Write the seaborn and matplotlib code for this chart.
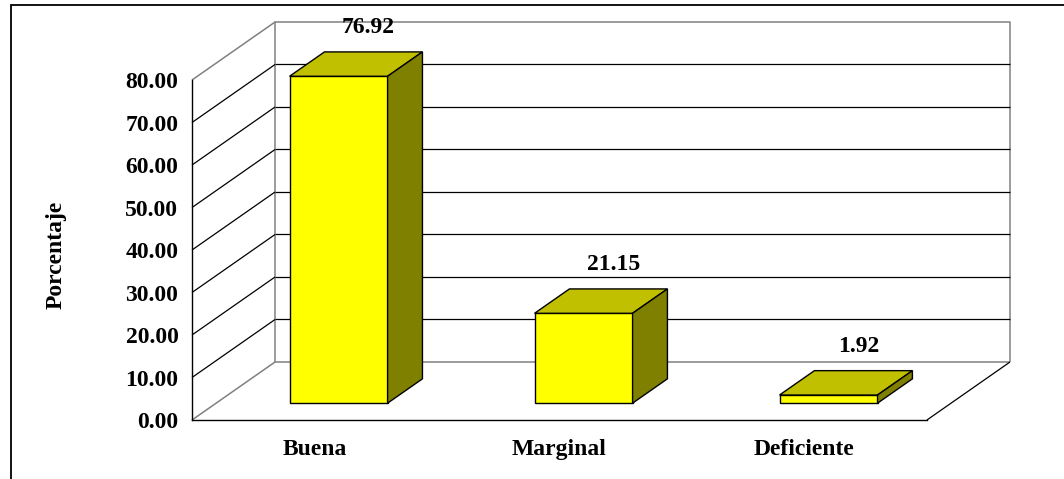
import matplotlib
matplotlib.use("Agg")
import matplotlib.pyplot as plt
import matplotlib.transforms as mtransforms
from matplotlib.patches import Polygon, Rectangle
import pandas as pd
import seaborn as sns

# ---- data -------------------------------------------------------------
categorias = ["Buena", "Marginal", "Deficiente"]
porcentajes = [76.92, 21.15, 1.92]
marcas_y = [0, 10, 20, 30, 40, 50, 60, 70, 80]
etiquetas_y = ["0.00", "10.00", "20.00", "30.00", "40.00",
               "50.00", "60.00", "70.00", "80.00"]

df = pd.DataFrame({"Calidad": categorias, "Porcentaje": porcentajes})

# ---- style ------------------------------------------------------------
sns.set_theme(style="white", rc={
    "text.color": "black", "axes.labelcolor": "black",
    "xtick.color": "black", "ytick.color": "black",
    "axes.edgecolor": "black",
})
plt.rcParams["font.family"] = ["Liberation Serif", "DejaVu Serif"]
FS = 17

W, H = 1064, 479
fig = plt.figure(figsize=(W / 100, H / 100), dpi=100)

# oblique depth vector of the 3-D box (category units, percent units)
DX, DY = 0.339, 13.65
D0, D1 = 0.29, 0.71          # front / back depth of the bars
YMAX = marcas_y[-1]
x0, x1 = -0.5, len(categorias) - 0.5

ax = fig.add_axes([192 / W, (H - 420) / H, (1010 - 192) / W, (420 - 22) / H])

# ---- walls and floor --------------------------------------------------
GREY = "#808080"
LW = 0.9
bx0, bx1 = x0 + DX, x1 + DX
kw = dict(clip_on=False, zorder=1, solid_capstyle="butt")
ax.plot([bx0, bx0, bx1, bx1], [DY, YMAX + DY, YMAX + DY, DY], color=GREY, lw=1.1, **kw)
ax.plot([bx0, bx1], [DY, DY], color=GREY, lw=1.1, **kw)
for v in marcas_y[1:-1]:
    ax.plot([bx0, bx1], [v + DY, v + DY], color="black", lw=LW, **kw)
    ax.plot([x0, bx0], [v, v + DY], color="black", lw=LW, **kw)
ax.plot([x0, bx0], [0, DY], color=GREY, lw=1.1, **kw)
ax.plot([x0, bx0], [YMAX, YMAX + DY], color=GREY, lw=1.1, **kw)
ax.plot([x1, bx1], [0, DY], color="black", lw=LW, **kw)

# ---- bars: front faces from seaborn, then top and side faces ---------
sns.barplot(data=df, x="Calidad", y="Porcentaje", width=0.4, color="#FFFF00",
            saturation=1, edgecolor="black", linewidth=1.0, zorder=3, ax=ax)
barras = list(ax.patches)

fx, fy = D0 * DX, D0 * DY
bxo, byo = D1 * DX, D1 * DY
desplazamiento = mtransforms.Affine2D().translate(fx, fy) + ax.transData
for barra, valor in zip(barras, porcentajes):
    barra.set_transform(desplazamiento)
    x, w, h = barra.get_x(), barra.get_width(), barra.get_height()
    tapa = [(x + fx, h + fy), (x + w + fx, h + fy),
            (x + w + bxo, h + byo), (x + bxo, h + byo)]
    lado = [(x + w + fx, fy), (x + w + fx, h + fy),
            (x + w + bxo, h + byo), (x + w + bxo, byo)]
    ax.add_patch(Polygon(tapa, closed=True, facecolor="#C0C000",
                         edgecolor="black", lw=1.0, zorder=3))
    ax.add_patch(Polygon(lado, closed=True, facecolor="#808000",
                         edgecolor="black", lw=1.0, zorder=3))
    ax.annotate(f"{valor:.2f}", xy=(x + w / 2 + 0.65 * DX, h + byo),
                xytext=(0, 13.7), textcoords="offset points",
                ha="center", va="baseline", fontsize=FS, fontweight="bold",
                annotation_clip=False)

# ---- axes -------------------------------------------------------------
ax.set_xlim(x0, bx1)
ax.set_ylim(0, YMAX + DY)
ax.patch.set_visible(False)
for s in ("top", "right"):
    ax.spines[s].set_visible(False)
ax.spines["left"].set_bounds(0, YMAX)
ax.spines["bottom"].set_bounds(x0, x1)
for s in ("left", "bottom"):
    ax.spines[s].set_linewidth(1.0)
    ax.spines[s].set_zorder(2)

ax.set_yticks(marcas_y, etiquetas_y)
ax.tick_params(axis="y", length=4, width=1, direction="out", pad=5.8,
               labelsize=FS)
ax.set_xticks(range(len(categorias)), categorias)
ax.set_xticks([x0 + i for i in range(len(categorias) + 1)], minor=True)
ax.tick_params(axis="x", which="major", length=0, pad=14.0, labelsize=FS)
ax.tick_params(axis="x", which="minor", length=5, width=1, direction="out")
for lab in ax.get_xticklabels() + ax.get_yticklabels():
    lab.set_fontweight("bold")

ax.set_xlabel("")
ax.set_ylabel("Porcentaje", fontsize=FS, fontweight="bold")
ax.yaxis.set_label_coords(-0.1528, 0.4146)

# chart frame
fig.add_artist(Rectangle((11 / W, -0.05), 1.1, (H - 5) / H + 0.05,
                         transform=fig.transFigure, fill=False,
                         edgecolor="black", lw=1.3, clip_on=False))

fig.savefig("out.png", dpi=100)
